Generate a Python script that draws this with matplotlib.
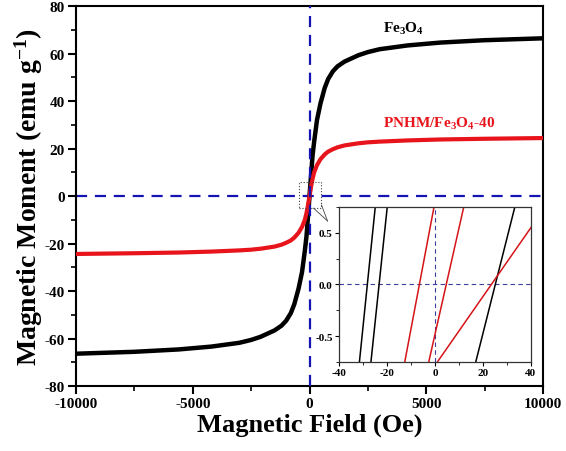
import matplotlib
matplotlib.use("Agg")
import matplotlib.pyplot as plt
from matplotlib.ticker import MultipleLocator
from matplotlib.patches import Rectangle

plt.rcParams['font.family'] = ['Liberation Serif', 'DejaVu Serif']
plt.rcParams['font.weight'] = 'bold'
plt.rcParams['axes.unicode_minus'] = False
plt.rcParams['mathtext.fontset'] = 'custom'
plt.rcParams['mathtext.rm'] = 'Liberation Serif:bold'
plt.rcParams['mathtext.it'] = 'Liberation Serif:bold'
plt.rcParams['mathtext.bf'] = 'Liberation Serif:bold'

# ---- main curves (field in Oe, moment in emu/g) ----
field = [-10000, -7500, -5600, -4200, -3000, -2500, -2100, -1500, -1200, -1000, -800, -650, -470,
         -320, -200, -130, -60, 0, 60, 130, 200, 320, 470, 650, 800, 1000, 1200, 1500, 2100,
         2500, 3000, 4200, 5600, 7500, 10000]
fe3o4_moment = [-66.4, -65.6, -64.6, -63.4, -61.8, -60.6, -59.3, -56.6, -54.6, -52.5, -49.3, -45.5,
                -39.0, -32.0, -23.0, -17.0, -8.0, 0.0, 8.0, 17.0, 23.0, 32.0, 39.0, 45.5, 49.3,
                52.5, 54.6, 56.6, 59.3, 60.6, 61.8, 63.4, 64.6, 65.6, 66.4]
pnhm_moment = [-24.4, -24.1, -23.8, -23.4, -22.9, -22.6, -22.2, -21.3, -20.5, -19.7, -18.7, -17.5,
               -15.5, -13.0, -10.0, -7.2, -3.6, 0.0, 3.6, 7.2, 10.0, 13.0, 15.5, 17.5, 18.7,
               19.7, 20.5, 21.3, 22.2, 22.6, 22.9, 23.4, 23.8, 24.1, 24.4]

# ---- inset branches: field at moment -0.75 and +0.75 ----
inset_moment = [-0.75, 0.75]
fe3o4_inset_branches = [[-31.5, -24.9], [-26.7, -19.9], [17.0, 33.3]]
pnhm_inset_branches = [[-12.6, -0.4], [-2.6, 12.0], [1.0, 46.0]]

fig = plt.figure(figsize=(5.66, 4.52), dpi=100)
ax = fig.add_axes([0.1343, 0.1438, 0.8251, 0.8407])

blue = '#1414b4'
ax.axhline(0, color=blue, lw=1.6, dashes=(5, 3.5), zorder=1)
ax.axvline(0, color=blue, lw=1.6, dashes=(5, 3.5), zorder=4)
ax.plot(field, fe3o4_moment, color='black', lw=3.2, zorder=2, solid_capstyle='butt',
        solid_joinstyle='round')
ax.plot(field, pnhm_moment, color='#e8141c', lw=3.0, zorder=3, solid_capstyle='butt',
        solid_joinstyle='round')

ax.set_xlim(-10000, 10000)
ax.set_ylim(-80, 80)
ax.xaxis.set_major_locator(MultipleLocator(5000))
ax.xaxis.set_minor_locator(MultipleLocator(2500))
ax.yaxis.set_major_locator(MultipleLocator(20))
ax.yaxis.set_minor_locator(MultipleLocator(10))
ax.tick_params(which='major', direction='out', length=6, width=1.5, labelsize=11, pad=2,
               top=False, right=False)
ax.tick_params(which='minor', direction='out', length=3.5, width=1.2, top=False, right=False)
for s in ax.spines.values():
    s.set_linewidth(1.5)
for lab in ax.get_xticklabels() + ax.get_yticklabels():
    lab.set_fontweight('bold')

ax.set_xlabel('Magnetic Field (Oe)', fontsize=19, fontweight='bold', labelpad=2)
ax.set_ylabel('Magnetic Moment (emu g$^{-1}$)', fontsize=20, fontweight='bold', labelpad=0)

ax.text(4020, 69.0, 'Fe$_3$O$_4$', fontsize=11, fontweight='bold', color='black',
        ha='center', va='baseline')
ax.text(5530, 29.3, 'PNHM/Fe$_3$O$_4$-40', fontsize=11, fontweight='bold', color='#e8141c',
        ha='center', va='baseline')

# zoom box and callout
ax.add_patch(Rectangle((-430, -5.2), 930, 11.0, fill=False, ls=':', lw=0.8,
                       edgecolor='#444444', zorder=6))
ax.plot([171, 770], [-5.1, -10.5], color='#444444', lw=0.6, zorder=6)
ax.plot([513, 770], [-3.8, -10.5], color='#444444', lw=0.6, zorder=6)

# inset
ins = fig.add_axes([0.599, 0.1969, 0.339, 0.343])
ins.axhline(0, color='#3c3c9c', lw=0.8, dashes=(4, 3))
ins.axvline(0, color='#3c3c9c', lw=0.8, dashes=(4, 3))
for br in fe3o4_inset_branches:
    ins.plot(br, inset_moment, color='black', lw=1.1)
for br in pnhm_inset_branches:
    ins.plot(br, inset_moment, color='#d41418', lw=1.1)
ins.set_xlim(-40, 40)
ins.set_ylim(-0.75, 0.75)
ins.xaxis.set_major_locator(MultipleLocator(20))
ins.xaxis.set_minor_locator(MultipleLocator(10))
ins.yaxis.set_major_locator(MultipleLocator(0.5))
ins.yaxis.set_minor_locator(MultipleLocator(0.25))
ins.tick_params(which='major', direction='out', length=3, width=0.8, labelsize=8, pad=1.5)
ins.tick_params(which='minor', direction='out', length=2, width=0.6)
ins.set_yticks([-0.5, 0.0, 0.5])
ins.set_yticklabels(['-0.5', '0.0', '0.5'])
for s in ins.spines.values():
    s.set_linewidth(0.9)
    s.set_color('#333333')
for lab in ins.get_xticklabels() + ins.get_yticklabels():
    lab.set_fontweight('bold')

fig.savefig('out.png', dpi=100)
